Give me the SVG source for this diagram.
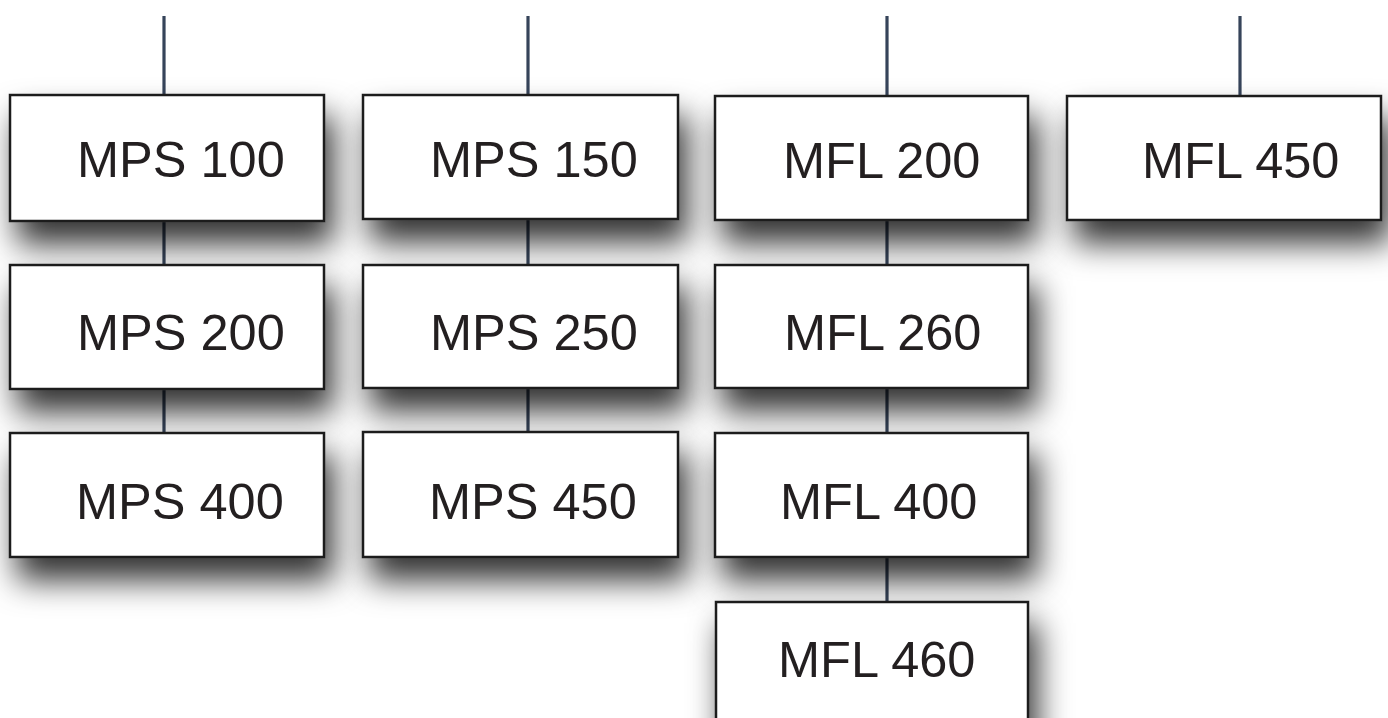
<svg xmlns="http://www.w3.org/2000/svg" width="1388" height="718" viewBox="0 0 1388 718">
<style>
.box{fill:#fff;stroke:#1a1a1a;stroke-width:2.5;filter:url(#sh)}
.lbl{font-family:"Liberation Sans",Arial,sans-serif;font-size:50.5px;fill:#231f20}
.con{stroke:#36445a;stroke-width:3.2;fill:none}
</style>
<defs>
<filter id="sh" x="-30%" y="-60%" width="170%" height="250%">
<feDropShadow dx="8" dy="22" stdDeviation="16" flood-color="#000" flood-opacity="0.8"/>
</filter>
</defs>
<rect width="1388" height="718" fill="#fff"/>
<g id="connectors">
<line class="con" x1="164" y1="16" x2="164" y2="95"/>
<line class="con" x1="164" y1="221" x2="164" y2="265"/>
<line class="con" x1="164" y1="389" x2="164" y2="433"/>
<line class="con" x1="528" y1="16" x2="528" y2="95"/>
<line class="con" x1="528" y1="219" x2="528" y2="265"/>
<line class="con" x1="528" y1="388" x2="528" y2="432"/>
<line class="con" x1="887" y1="16" x2="887" y2="96"/>
<line class="con" x1="887" y1="220" x2="887" y2="265"/>
<line class="con" x1="887" y1="388" x2="887" y2="433"/>
<line class="con" x1="887" y1="557" x2="887" y2="602"/>
<line class="con" x1="1240" y1="16" x2="1240" y2="96"/>
</g>
<g id="mps100"><rect class="box" x="10" y="95" width="314" height="126"/><text class="lbl" x="77" y="177">MPS 100</text></g>
<g id="mps200"><rect class="box" x="10" y="265" width="314" height="124"/><text class="lbl" x="77" y="350">MPS 200</text></g>
<g id="mps400"><rect class="box" x="10" y="433" width="314" height="124"/><text class="lbl" x="76" y="519">MPS 400</text></g>
<g id="mps150"><rect class="box" x="363" y="95" width="315" height="124"/><text class="lbl" x="430" y="177">MPS 150</text></g>
<g id="mps250"><rect class="box" x="363" y="265" width="315" height="123"/><text class="lbl" x="430" y="350">MPS 250</text></g>
<g id="mps450"><rect class="box" x="363" y="432" width="315" height="125"/><text class="lbl" x="429" y="519">MPS 450</text></g>
<g id="mfl200"><rect class="box" x="715" y="96" width="313" height="124"/><text class="lbl" x="783" y="178">MFL 200</text></g>
<g id="mfl260"><rect class="box" x="715" y="265" width="313" height="123"/><text class="lbl" x="784" y="350">MFL 260</text></g>
<g id="mfl400"><rect class="box" x="715" y="433" width="313" height="124"/><text class="lbl" x="780" y="519">MFL 400</text></g>
<g id="mfl460"><rect class="box" x="716" y="602" width="312" height="140"/><text class="lbl" x="778" y="677">MFL 460</text></g>
<g id="mfl450"><rect class="box" x="1067" y="96" width="314" height="124"/><text class="lbl" x="1142" y="178">MFL 450</text></g>
</svg>
